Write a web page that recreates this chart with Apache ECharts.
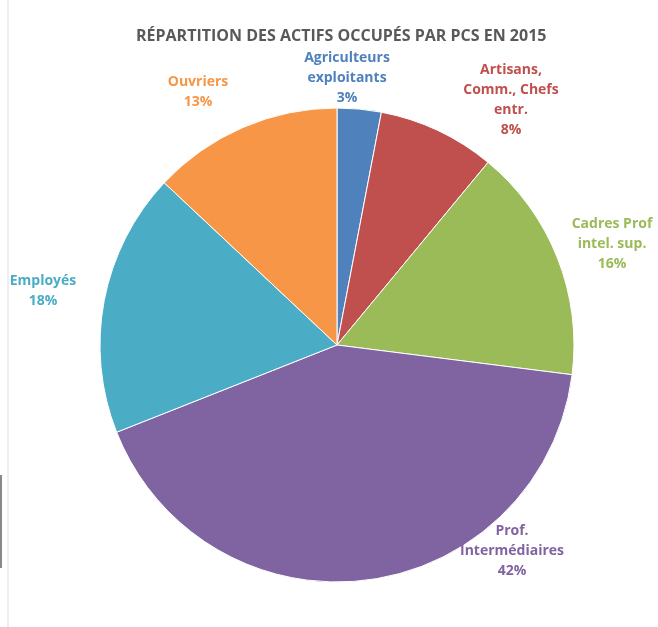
<!DOCTYPE html>
<html>
<head>
<meta charset="utf-8">
<script src="https://cdn.jsdelivr.net/npm/echarts@6/dist/echarts.min.js"></script>
<style>
  html, body { margin: 0; padding: 0; background: #fff; }
  #chart { width: 658px; height: 627px; }
</style>
</head>
<body>
<div id="chart"></div>
<script>
const chartDom = document.getElementById('chart');
const myChart = echarts.init(chartDom);

const categories = ['Agriculteurs\nexploitants', 'Artisans,\nComm., Chefs\nentr.', 'Cadres Prof\nintel. sup.', 'Prof.\nIntermédiaires', 'Employés', 'Ouvriers'];
const values = [3, 8, 16, 42, 18, 13];
const colors = ['#4F81BD', '#C0504D', '#9BBB59', '#8064A2', '#4BACC6', '#F79646'];

// where Excel put each data label (label centre, px)
const labelPos = [[347, 78], [511, 100], [612, 244], [512, 551], [43, 291], [198, 92]];

const seriesData = categories.map((name, i) => ({
    name: name,
    value: values[i],
    itemStyle: { color: colors[i] },
    label: { color: colors[i] }
}));

const option = {
    backgroundColor: '#fff',
    title: {
        text: 'RÉPARTITION DES ACTIFS OCCUPÉS PAR PCS EN 2015',
        left: 131,
        top: 23,
        textStyle: {
            fontFamily: 'Open Sans',
            fontSize: 16,
            fontWeight: 'bold',
            color: '#595959'
        }
    },
    graphic: [
        { type: 'rect', shape: { x: 7, y: 0, width: 2, height: 627 }, style: { fill: '#eeeeee' } },
        { type: 'rect', shape: { x: 0, y: 475, width: 2, height: 93 }, style: { fill: '#888888' } }
    ],
    series: [{
        type: 'pie',
        center: [337, 345],
        radius: [0, 237],
        startAngle: 90,
        clockwise: true,
        data: seriesData,
        itemStyle: { borderColor: '#fff', borderWidth: 1 },
        label: {
            position: 'outside',
            formatter: '{b}\n{d}%',
            fontFamily: 'Open Sans',
            fontSize: 14,
            fontWeight: 'bold',
            lineHeight: 20,
            align: 'center',
            overflow: 'none'
        },
        labelLine: { show: false },
        labelLayout: function (params) {
            const p = labelPos[params.dataIndex];
            return { x: p[0], y: p[1], align: 'center', verticalAlign: 'middle' };
        }
    }]
};

myChart.setOption(option);
</script>
</body>
</html>
